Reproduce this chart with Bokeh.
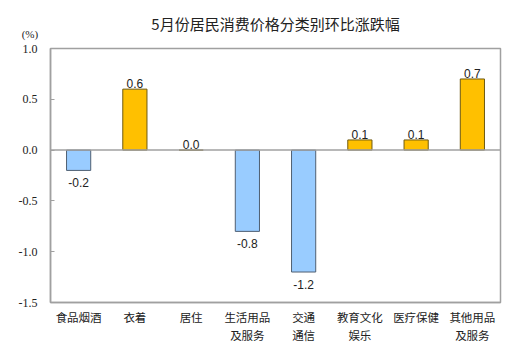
from bokeh.plotting import figure
from bokeh.models import (ColumnDataSource, Range1d, FixedTicker, LabelSet, Span, LinearAxis)
from bokeh.core.properties import value
from bokeh.embed import file_html
from bokeh.resources import INLINE

categories = ["食品烟酒", "衣着", "居住", "生活用品及服务", "交通通信", "教育文化娱乐", "医疗保健", "其他用品及服务"]
label_line1 = ["食品烟酒", "衣着", "居住", "生活用品", "交通", "教育文化", "医疗保健", "其他用品"]
label_line2 = ["", "", "", "及服务", "通信", "娱乐", "", "及服务"]
values = [-0.2, 0.6, 0.0, -0.8, -1.2, 0.1, 0.1, 0.7]
y_ticks = [1.0, 0.5, 0.0, -0.5, -1.0, -1.5]
title_text = "5月份居民消费价格分类别环比涨跌幅"
unit_text = "(%)"

pos = list(range(len(categories)))
colors = ["#99CCFF" if v < 0 else "#FFC000" for v in values]
lines = ["#4F5F72" if v < 0 else "#6F5A10" for v in values]
label_text = ["%.1f" % v for v in values]
label_off = [-17 if v < 0 else 1 for v in values]

src = ColumnDataSource(dict(x=pos, cat=categories, val=values, color=colors, line=lines,
                            txt=label_text, off=label_off))

x_start = -0.5
p = figure(width=513, height=346, x_range=Range1d(x_start, len(categories) - 0.5),
           y_range=Range1d(-1.5, 1.0),
           output_backend="svg", toolbar_location=None,
           min_border_left=50, min_border_right=13, min_border_top=48, min_border_bottom=44)

p.vbar(x="x", top="val", bottom=0, width=0.43, source=src, fill_color="color",
       line_color="line", line_width=1)

p.add_layout(Span(location=0, dimension="width", line_color="#A0A0A0", line_width=1.5))

p.add_layout(LabelSet(x="x", y="val", text="txt", y_offset="off", source=src,
                      text_align="center", text_baseline="bottom",
                      text_font=value("Liberation Sans"),
                      text_font_size=value("12px"), text_color=value("#222222")))

p.title.visible = False

p.grid.visible = False
p.outline_line_color = "#A0A0A0"
p.outline_line_width = 1.5
p.background_fill_color = "white"
p.border_fill_color = "white"

ya = p.yaxis[0]
ya.ticker = FixedTicker(ticks=y_ticks)
ya.major_label_overrides = {t: "%.1f" % t for t in y_ticks}
ya.major_tick_in = 4
ya.major_tick_out = 0
ya.minor_tick_in = 0
ya.minor_tick_out = 0
ya.axis_line_color = "#A0A0A0"
ya.axis_line_width = 1.5
ya.major_tick_line_color = "#A0A0A0"
ya.major_label_text_font = "Liberation Serif"
ya.major_label_text_font_size = "12px"
ya.major_label_text_color = "#222222"
ya.major_label_standoff = 13

xa = p.below[0]
xa.ticker = FixedTicker(ticks=pos)
xa.major_label_overrides = dict(zip(pos, label_line1))
xa.major_tick_line_color = None
xa.minor_tick_line_color = None
xa.axis_line_color = "#A0A0A0"
xa.axis_line_width = 1.5
xa.major_label_text_font = "Noto Sans CJK SC"
xa.major_label_text_font_size = "11.5px"
xa.major_label_text_color = "#222222"
xa.major_label_standoff = 0

xa2 = LinearAxis(ticker=FixedTicker(ticks=pos),
                 major_label_overrides=dict(zip(pos, [s if s else " " for s in label_line2])),
                 major_tick_line_color=None, minor_tick_line_color=None,
                 axis_line_color=None, major_label_text_font="Noto Sans CJK SC",
                 major_label_text_font_size="11.5px", major_label_text_color="#222222",
                 major_label_standoff=-7)
p.add_layout(xa2, "below")

# top axis: its single tick label is the unit "(%)" at the frame's left edge,
# its axis label is the chart title (pulled down to sit beside the unit)
top_axis = LinearAxis(ticker=FixedTicker(ticks=[x_start]),
                      major_label_overrides={x_start: unit_text + "\u00a0" * 15},
                      axis_line_color=None, major_tick_line_color=None,
                      minor_tick_line_color=None, major_tick_in=0, major_tick_out=0,
                      minor_tick_in=0, minor_tick_out=0,
                      major_label_text_font="Liberation Serif",
                      major_label_text_font_size="11px",
                      major_label_text_color="#222222",
                      major_label_standoff=9,
                      axis_label=title_text,
                      axis_label_text_font="Noto Sans CJK SC",
                      axis_label_text_font_size="15px",
                      axis_label_text_font_style="normal",
                      axis_label_text_color="#222222",
                      axis_label_standoff=-9)
p.add_layout(top_axis, "above")

open("out.html", "w").write(file_html(p, INLINE))
